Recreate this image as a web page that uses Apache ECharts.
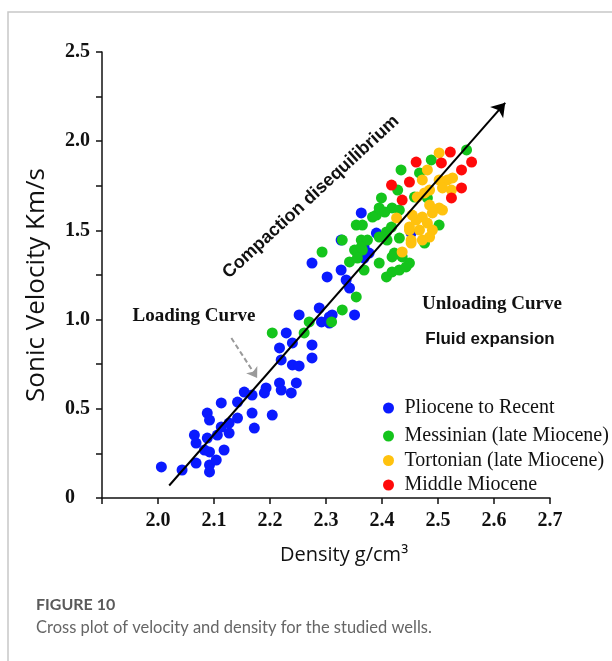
<!DOCTYPE html>
<html>
<head>
<meta charset="utf-8">
<script src="https://cdn.jsdelivr.net/npm/echarts@6/dist/echarts.min.js"></script>
<style>html,body{margin:0;padding:0;background:#fff;}#chart{width:612px;height:661px;}</style>
</head>
<body>
<div id="chart"></div>
<script>
// ---- data (density g/cm3, sonic velocity km/s) ----
const seriesNames = ['Pliocene to Recent', 'Messinian (late Miocene)', 'Tortonian (late Miocene)', 'Middle Miocene'];
const plioceneToRecent = [
  [2.006,0.174],[2.043,0.157],[2.068,0.196],[2.092,0.185],[2.092,0.146],[2.104,0.213],
  [2.118,0.269],[2.083,0.269],[2.092,0.258],[2.068,0.308],[2.065,0.353],[2.088,0.336],
  [2.106,0.353],[2.113,0.398],[2.127,0.364],[2.127,0.420],[2.142,0.448],[2.088,0.476],
  [2.092,0.437],[2.113,0.533],[2.142,0.538],[2.154,0.594],[2.172,0.392],[2.168,0.476],
  [2.204,0.465],[2.168,0.577],[2.193,0.617],[2.190,0.589],[2.217,0.645],[2.220,0.605],
  [2.247,0.645],[2.238,0.589],[2.217,0.841],[2.220,0.774],[2.240,0.869],[2.229,0.925],
  [2.275,0.858],[2.275,0.785],[2.240,0.746],[2.252,0.740],[2.252,1.026],[2.288,1.065],
  [2.306,1.015],[2.311,1.026],[2.292,0.987],[2.306,0.981],[2.351,1.026],[2.275,1.317],
  [2.302,1.239],[2.327,1.278],[2.336,1.222],[2.342,1.177],[2.327,1.446],[2.368,1.345],
  [2.377,1.373],[2.363,1.598],[2.390,1.485],[2.452,1.485],[2.368,1.407]
];
const messinian = [
  [2.204,0.925],[2.270,0.987],[2.261,0.925],[2.310,0.987],[2.329,1.054],[2.354,1.127],
  [2.293,1.379],[2.329,1.446],[2.354,1.530],[2.365,1.530],[2.390,1.586],[2.395,1.463],
  [2.408,1.491],[2.363,1.446],[2.374,1.446],[2.351,1.390],[2.356,1.373],[2.365,1.390],
  [2.342,1.323],[2.368,1.278],[2.395,1.317],[2.408,1.239],[2.422,1.373],[2.418,1.267],
  [2.431,1.278],[2.418,1.351],[2.436,1.351],[2.449,1.317],[2.443,1.295],[2.431,1.457],
  [2.418,1.626],[2.431,1.614],[2.395,1.626],[2.405,1.603],[2.399,1.682],[2.428,1.726],
  [2.434,1.839],[2.467,1.822],[2.488,1.895],[2.551,1.951],[2.458,1.687],[2.502,1.530],
  [2.476,1.429],[2.383,1.575],[2.417,1.519],[2.409,1.446],[2.356,1.345],[2.363,1.407],
  [2.481,1.682]
];
const tortonian = [
  [2.502,1.934],[2.481,1.839],[2.472,1.783],[2.502,1.783],[2.517,1.783],[2.526,1.794],
  [2.508,1.738],[2.485,1.726],[2.476,1.710],[2.463,1.687],[2.485,1.642],[2.502,1.626],
  [2.508,1.614],[2.490,1.598],[2.472,1.575],[2.461,1.558],[2.481,1.541],[2.467,1.502],
  [2.490,1.502],[2.485,1.463],[2.472,1.446],[2.449,1.502],[2.452,1.446],[2.426,1.570],
  [2.436,1.379],[2.454,1.586],[2.449,1.519],[2.452,1.429],[2.524,1.726]
];
const middleMiocene = [
  [2.522,1.939],[2.560,1.883],[2.506,1.878],[2.461,1.883],[2.542,1.839],[2.449,1.771],
  [2.417,1.754],[2.542,1.738],[2.524,1.682],[2.436,1.670]
];
const trendArrow = [[2.02,0.07],[2.62,2.215]];
const loadingArrow = [[2.131,0.897],[2.177,0.673]];
const xTickValues = [2.0,2.1,2.2,2.3,2.4,2.5,2.6,2.7];
const yTickLabels = ['0','0.5','1.0','1.5','2.0','2.5'];

// ---- chart ----
const colors = ['#0a1aff', '#14c41c', '#ffc20e', '#ff0a0a'];
const chart = echarts.init(document.getElementById('chart'), null, {renderer: 'canvas'});
const serif = '"Liberation Serif", "Times New Roman", serif';

const legendBase = {
  orient: 'vertical', left: 378, icon: 'circle', itemWidth: 22, itemHeight: 11,
  textStyle: {fontFamily: serif, fontSize: 20, color: '#111'}, selectedMode: false
};

function dotSeries(i, data) {
  return {name: seriesNames[i], type: 'scatter', data: data, symbolSize: 11,
    itemStyle: {color: colors[i], opacity: 1}, z: 2 + i};
}

const option = {
  animation: false,
  backgroundColor: '#fff',
  grid: {left: 102, right: 62, top: 52, bottom: 163},
  legend: [
    Object.assign({}, legendBase, {top: 393, data: [seriesNames[0]]}),
    Object.assign({}, legendBase, {top: 421, itemGap: 4.5, data: seriesNames.slice(1)})
  ],
  xAxis: {
    type: 'value', min: 1.9, max: 2.7, interval: 0.1,
    axisLine: {show: true, onZero: false, lineStyle: {color: '#111', width: 1.5}},
    axisTick: {show: true, length: 6, lineStyle: {color: '#111', width: 1.5}},
    splitLine: {show: false},
    axisLabel: {
      margin: 13, fontFamily: serif, fontWeight: 'bold', fontSize: 20, color: '#111',
      formatter: function (v) {
        const r = Math.round(v * 10) / 10;
        return xTickValues.indexOf(r) >= 0 ? r.toFixed(1) : '';
      }
    }
  },
  yAxis: {
    type: 'value', min: 0, max: 2.5, interval: 0.5,
    axisLine: {show: true, lineStyle: {color: '#111', width: 1.5}},
    axisTick: {show: true, length: 6, lineStyle: {color: '#111', width: 1.5}},
    minorTick: {show: true, splitNumber: 2, length: 6, lineStyle: {color: '#111', width: 1.5}},
    splitLine: {show: false},
    axisLabel: {
      margin: 37, align: 'left', fontFamily: serif, fontWeight: 'bold', fontSize: 20, color: '#111',
      formatter: function (v) { return yTickLabels[Math.round(v / 0.5)]; }
    }
  },
  series: [
    dotSeries(0, plioceneToRecent),
    dotSeries(1, messinian),
    dotSeries(2, tortonian),
    dotSeries(3, middleMiocene),
    {
      type: 'lines', coordinateSystem: 'cartesian2d', z: 10, silent: true,
      symbol: ['none', 'arrow'], symbolSize: 13,
      lineStyle: {color: '#000', width: 2, opacity: 1},
      data: [{coords: trendArrow}]
    },
    {
      type: 'lines', coordinateSystem: 'cartesian2d', z: 10, silent: true,
      symbol: ['none', 'arrow'], symbolSize: 10,
      lineStyle: {color: '#9a9a9a', width: 2, type: [5, 3], opacity: 1},
      data: [{coords: loadingArrow}]
    }
  ],
  graphic: [
    {type: 'polyline', shape: {points: [[8, 661], [8, 12], [612, 12]]}, style: {stroke: '#c8c8c8', lineWidth: 1.5, fill: null}},
    {type: 'text', x: 37, y: 285, rotation: Math.PI / 2,
      style: {text: 'Sonic Velocity Km/s', font: '26px "Open Sans"', fill: '#111', align: 'center', verticalAlign: 'middle'}},
    {type: 'text', x: 344, y: 555,
      style: {text: 'Density g/cm³', font: '20px "Open Sans"', fill: '#111', align: 'center', verticalAlign: 'middle'}},
    {type: 'text', x: 311, y: 197, rotation: 0.742,
      style: {text: 'Compaction disequilibrium', font: 'bold 18px "Liberation Sans"', fill: '#111', align: 'center', verticalAlign: 'middle'}},
    {type: 'text', x: 194, y: 316,
      style: {text: 'Loading Curve', font: 'bold 19px "Liberation Serif"', fill: '#111', align: 'center', verticalAlign: 'middle'}},
    {type: 'text', x: 492, y: 304,
      style: {text: 'Unloading Curve', font: 'bold 19px "Liberation Serif"', fill: '#111', align: 'center', verticalAlign: 'middle'}},
    {type: 'text', x: 490, y: 339,
      style: {text: 'Fluid expansion', font: 'bold 17px "Liberation Sans"', fill: '#111', align: 'center', verticalAlign: 'middle'}},
    {type: 'text', x: 36, y: 605,
      style: {text: 'FIGURE 10', font: 'bold 16px Lato', fill: '#5a5a5a', align: 'left', verticalAlign: 'middle'}},
    {type: 'text', x: 36, y: 628,
      style: {text: 'Cross plot of velocity and density for the studied wells.', font: '16.5px Lato', fill: '#666', align: 'left', verticalAlign: 'middle'}}
  ]
};
chart.setOption(option);
</script>
</body>
</html>
